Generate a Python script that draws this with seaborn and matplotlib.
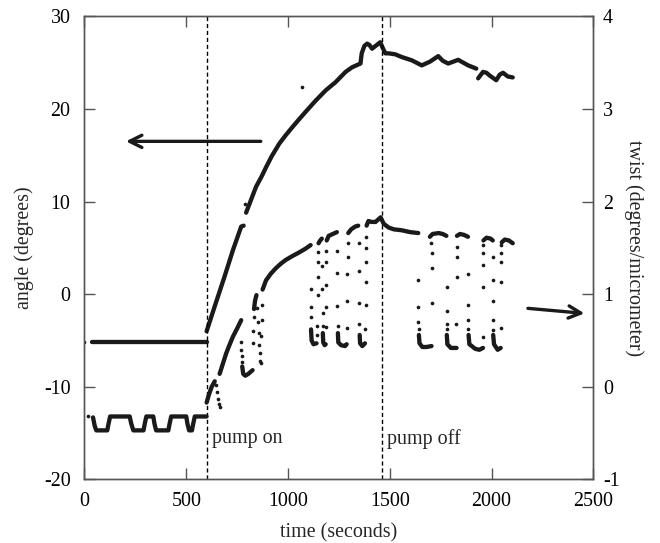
import numpy as np
import pandas as pd
import matplotlib
matplotlib.use("Agg")
import matplotlib.pyplot as plt
import seaborn as sns

# ---------------- data ----------------
# angle series (left axis, degrees): dense segments
ang_t = [35, 600,
         600, 640, 688, 730, 770, 782,
         794, 843, 870, 892, 920, 957, 990, 1022, 1055, 1087, 1136, 1185, 1234, 1283, 1315, 1356,
         1362, 1375, 1389,
         1400, 1413, 1430, 1453, 1465, 1478, 1494, 1526, 1559, 1608, 1657, 1697, 1738, 1760,
         1787, 1836, 1885, 1925,
         1934, 1958, 1975, 1991, 2023, 2040, 2056, 2080, 2104]
ang_v = [-5.2, -5.2,
         -4.0, -1.3, 1.9, 4.8, 7.3, 7.4,
         8.8, 11.6, 12.7, 13.7, 14.9, 16.25, 17.2, 18.05, 18.9, 19.7, 20.9, 22.0, 22.9, 24.0, 24.5, 24.9,
         26.0, 26.8, 27.05,
         26.9, 26.5, 26.8, 27.2, 26.6, 26.0, 26.0, 25.9, 25.6, 25.25, 24.7, 25.1, 25.7, 25.2,
         24.9, 25.3, 24.7, 24.35,
         23.3, 24.0, 23.9, 23.6, 23.1, 23.7, 23.9, 23.5, 23.4]
ang_seg = [0] * 2 + [1] * 6 + [2] * 37 + [3] * 9
# isolated angle points
ang_dot_t = [0, 789, 1071]
ang_dot_v = [-5.2, 9.7, 22.4]

# twist series (right axis, degrees/micrometer): dense segments
tw_t = [42, 50, 58, 112, 118, 126, 222, 230, 240, 290, 296, 304, 338, 344, 352, 412, 418, 426,
        500, 506, 514, 528, 534, 542, 600,
        600, 612, 625, 640,
        664, 680, 696, 712, 729, 750, 770,
        775, 780, 790, 805, 826,
        833, 838, 845,
        875, 892, 915, 940, 965, 989, 1020, 1054, 1085, 1111,
        1113, 1116, 1125, 1140,
        1150, 1158, 1166,
        1171, 1173, 1180, 1185,
        1190, 1200, 1220, 1240,
        1245, 1247, 1260, 1280, 1288,
        1296, 1310, 1330, 1345,
        1352, 1354, 1365, 1378,
        1386, 1395, 1410, 1430, 1445, 1455, 1470, 1494, 1520, 1559, 1600, 1640,
        1643, 1646, 1660, 1680, 1705,
        1697, 1710, 1740, 1760, 1778,
        1780, 1783, 1800, 1828,
        1830, 1845, 1865, 1884,
        1887, 1891, 1920, 1940, 1958,
        1960, 1975, 1995, 2006,
        2008, 2012, 2030, 2045,
        2050, 2065, 2085, 2104]
tw_v = [-0.33, -0.42, -0.47, -0.47, -0.40, -0.32, -0.32, -0.40, -0.47, -0.47, -0.40, -0.32,
        -0.32, -0.40, -0.47, -0.47, -0.40, -0.32, -0.32, -0.40, -0.47, -0.47, -0.40, -0.32, -0.32,
        -0.17, -0.08, 0.0, 0.06,
        0.14, 0.25, 0.36, 0.45, 0.54, 0.63, 0.72,
        0.22, 0.14, 0.12, 0.14, 0.18,
        0.84, 0.93, 0.99,
        1.05, 1.15, 1.22, 1.28, 1.33, 1.37, 1.41, 1.45, 1.49, 1.53,
        0.62, 0.50, 0.46, 0.47,
        1.55, 1.58, 1.60,
        0.58, 0.48, 0.45, 0.46,
        1.58, 1.63, 1.65, 1.67,
        0.58, 0.48, 0.45, 0.44, 0.46,
        1.66, 1.70, 1.73, 1.74,
        0.56, 0.47, 0.44, 0.47,
        1.74, 1.79, 1.78, 1.78, 1.81, 1.83, 1.76, 1.72, 1.70, 1.69, 1.67, 1.66,
        0.56, 0.47, 0.43, 0.43, 0.44,
        1.62, 1.65, 1.66, 1.65, 1.63,
        0.56, 0.46, 0.42, 0.42,
        1.63, 1.65, 1.64, 1.62,
        0.56, 0.46, 0.41, 0.40, 0.42,
        1.58, 1.61, 1.60, 1.58,
        0.56, 0.46, 0.40, 0.42,
        1.56, 1.59, 1.58, 1.55]
tw_seg_len = [25, 4, 7, 5, 3, 10, 4, 3, 4, 4, 5, 4, 4, 12, 5, 5, 4, 4, 5, 4, 4, 4]
tw_seg = [i for i, n in enumerate(tw_seg_len) for _ in range(n)]
# isolated twist points
tw_dot_t = [15,
            648, 652, 656, 660, 665,
            770, 771, 772, 774,
            826, 828, 831,
            850, 852, 855, 858, 860, 862, 866, 868, 870, 873,
            1112, 1112, 1113,
            1144, 1144, 1145, 1146, 1148, 1149,
            1168, 1169, 1170, 1170,
            1185, 1186, 1187, 1188, 1189,
            1242, 1243, 1243, 1244,
            1290, 1291, 1292, 1294, 1295,
            1348, 1349, 1350, 1350,
            1380, 1381, 1382, 1383, 1384, 1385,
            1640, 1641, 1641, 1642,
            1705, 1705, 1705, 1704,
            1779, 1779, 1780, 1780,
            1827, 1828, 1829, 1830,
            1884, 1884, 1885, 1886,
            1958, 1958, 1958, 1959, 1959,
            2006, 2006, 2007, 2007, 2008,
            2047, 2047, 2047, 2048, 2048]
tw_dot_v = [-0.32,
            0.02, -0.06, -0.13, -0.19, -0.22,
            0.48, 0.40, 0.33, 0.27,
            0.47, 0.60, 0.75,
            0.85, 0.70, 0.58, 0.45, 0.36, 0.28, 0.26, 0.55, 0.72, 0.88,
            1.06, 0.86, 0.75,
            0.56, 0.66, 0.99, 1.19, 1.35, 1.46,
            1.30, 1.06, 0.80, 0.66,
            0.65, 0.86, 1.10, 1.35, 1.47,
            1.47, 1.23, 0.87, 0.66,
            0.64, 0.93, 1.22, 1.40, 1.55,
            1.55, 1.25, 0.90, 0.68,
            0.62, 0.88, 1.13, 1.35, 1.50, 1.62,
            1.15, 0.86, 0.70, 0.62,
            0.91, 1.28, 1.45, 1.55,
            1.08, 0.82, 0.68, 0.62,
            0.68, 1.19, 1.40, 1.51,
            1.22, 0.88, 0.72, 0.62,
            0.54, 1.08, 1.32, 1.44, 1.53,
            1.40, 1.15, 0.93, 0.72, 0.61,
            0.63, 1.13, 1.35, 1.45, 1.53]

pump_times = [600, 1460]
pump_labels = ["pump on", "pump off"]

# ---------------- drawing ----------------
sns.set_theme(style="ticks")
plt.rcParams["font.family"] = ["Liberation Serif", "DejaVu Serif"]
plt.rcParams["axes.unicode_minus"] = False

fig = plt.figure(figsize=(6.6, 5.43), dpi=100)
ax = fig.add_axes([0.128, 0.117, 0.771, 0.853])
ax2 = ax.twinx()

ang_df = pd.DataFrame({"t": ang_t, "v": ang_v, "seg": ang_seg})
tw_df = pd.DataFrame({"t": tw_t, "v": tw_v, "seg": tw_seg})

line_kw = dict(color="#1a1a1a", linewidth=3.1, estimator=None, sort=False,
               legend=False, solid_capstyle="round", solid_joinstyle="round")
sns.lineplot(data=ang_df, x="t", y="v", units="seg", ax=ax, **line_kw)
sns.scatterplot(x=ang_dot_t, y=ang_dot_v, ax=ax, color="#1a1a1a", s=7,
                linewidth=0, legend=False)
sns.lineplot(data=tw_df, x="t", y="v", units="seg", ax=ax2, **line_kw)
sns.scatterplot(x=tw_dot_t, y=tw_dot_v, ax=ax2, color="#1a1a1a", s=7,
                linewidth=0, legend=False)

ax.set_xlim(0, 2500)
ax.set_ylim(-20, 30)
ax2.set_ylim(-1, 4)
ax.set_xticks([0, 500, 1000, 1500, 2000, 2500])
ax.set_yticks([-20, -10, 0, 10, 20, 30])
ax2.set_yticks([-1, 0, 1, 2, 3, 4])

for a in (ax, ax2):
    for sp in a.spines.values():
        sp.set_visible(True)
        sp.set_color("#555555")
        sp.set_linewidth(1.0)

ax.tick_params(axis="both", direction="in", length=8, width=1.0, color="#555555",
               labelsize=14.4, labelcolor="black", top=True, right=False)
ax.tick_params(axis="x", pad=9)
ax.tick_params(axis="y", pad=10)
ax2.tick_params(axis="y", direction="in", length=8, width=1.0, color="#555555",
                labelsize=14.4, labelcolor="black", pad=7)

ax.set_xlabel("time (seconds)", fontsize=14.4, labelpad=9)
ax.set_ylabel("angle (degrees)", fontsize=14.4, labelpad=7)
ax2.set_ylabel("twist (degrees/micrometer)", fontsize=14.4, rotation=270,
               labelpad=17)

for tp, lab in zip(pump_times, pump_labels):
    ax.axvline(tp, color="black", linewidth=1.0, linestyle=(0, (3, 2)))
    ax.text(tp + 25, -15.6, lab, fontsize=14.4, ha="left", va="center")

# arrows indicating which axis each curve belongs to
ax.annotate("", xy=(190, 16.5), xytext=(880, 16.5),
            arrowprops=dict(arrowstyle="->", lw=2.4, color="#1a1a1a",
                            mutation_scale=22))
ax2.annotate("", xy=(2470, 0.79), xytext=(2165, 0.85),
             arrowprops=dict(arrowstyle="->", lw=2.4, color="#1a1a1a",
                             mutation_scale=22))

ax.set_facecolor("white")
fig.patch.set_facecolor("white")
fig.savefig("out.png", dpi=100)
